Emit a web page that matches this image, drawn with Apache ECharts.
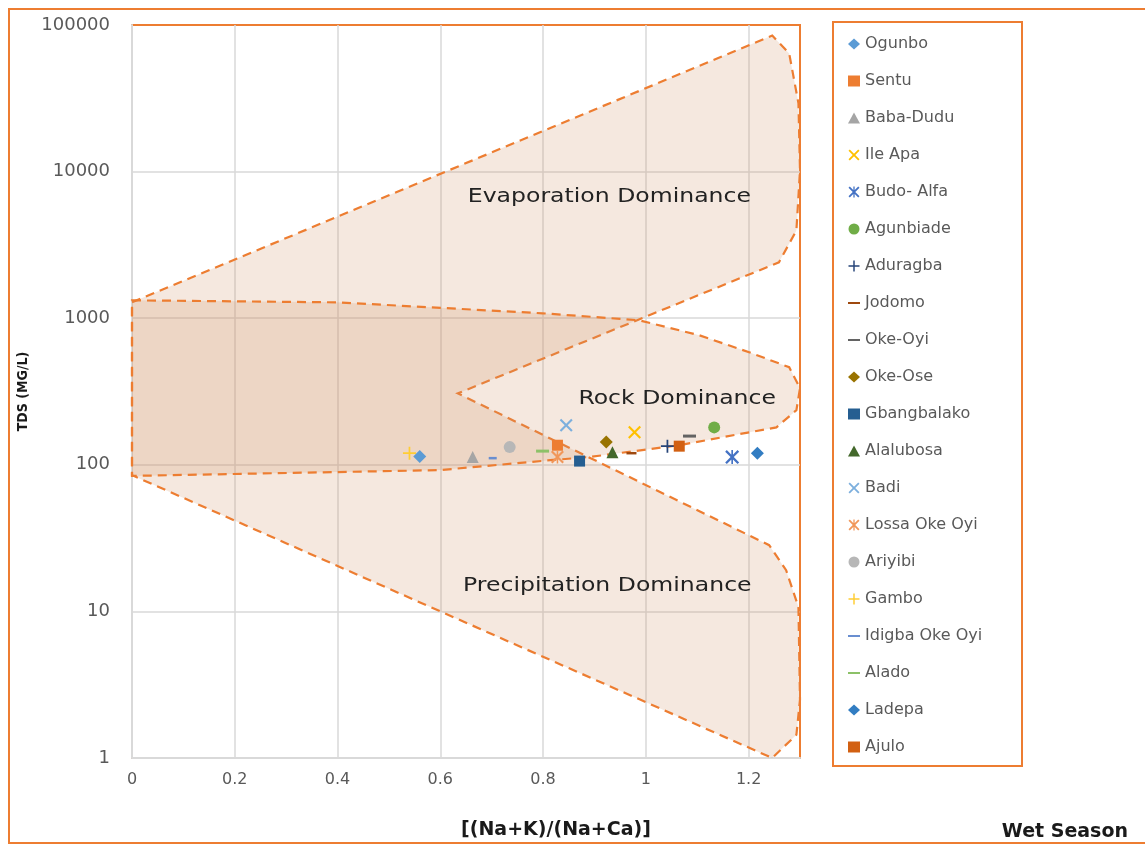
<!DOCTYPE html>
<html>
<head>
<meta charset="utf-8">
<script src="https://cdn.jsdelivr.net/npm/echarts@6/dist/echarts.min.js"></script>
<style>
  html, body { margin: 0; padding: 0; background: #fff; }
  #chart { width: 1145px; height: 846px; }
</style>
</head>
<body>
<div id="chart"></div>
<script>
// sample sites, wet season
var sampleNames = ['Ogunbo', 'Sentu', 'Baba-Dudu', 'Ile Apa', 'Budo- Alfa', 'Agunbiade', 'Aduragba',
  'Jodomo', 'Oke-Oyi', 'Oke-Ose', 'Gbangbalako', 'Alalubosa', 'Badi', 'Lossa Oke Oyi', 'Ariyibi',
  'Gambo', 'Idigba Oke Oyi', 'Alado', 'Ladepa', 'Ajulo'];
// (Na+K)/(Na+Ca)
var ratioValues = [0.560, 0.828, 0.663, 0.978, 1.168, 1.133, 1.042, 0.972, 1.085, 0.923,
  0.871, 0.935, 0.845, 0.828, 0.735, 0.540, 0.702, 0.799, 1.217, 1.065];
// TDS (mg/l)
var tdsValues = [114, 136, 113, 167, 113, 180, 134, 120, 157, 143,
  106, 122, 186, 113, 132, 120, 111, 124, 120, 134];

// Gibbs envelopes [ratio, TDS]
var outerEnvelope = [[0, 1283], [1.246, 84800], [1.279, 63900], [1.297, 29200], [1.3, 10200],
  [1.293, 3970], [1.259, 2405], [0.634, 307], [1.240, 28.3], [1.273, 19.1], [1.297, 10.7],
  [1.3, 2.5], [1.293, 1.44], [1.246, 1], [0, 85]];
var rockEnvelope = [[0, 1324], [0.398, 1283], [0.799, 1080], [0.987, 968], [1.104, 765],
  [1.201, 586], [1.279, 463], [1.3, 333], [1.293, 236], [1.254, 180], [1.182, 162],
  [1.065, 136], [0.890, 113], [0.807, 107], [0.599, 92], [0, 84]];

var regionNames = ['Evaporation Dominance', 'Rock Dominance', 'Precipitation Dominance'];
var regionRatio = [0.929, 1.061, 0.925];
var regionTds = [6670, 280, 14.9];

var xTicks = [0, 0.2, 0.4, 0.6, 0.8, 1, 1.2];

var X_PATH = 'path://M0,1.4L1.4,0L6,4.6L10.6,0L12,1.4L7.4,6L12,10.6L10.6,12L6,7.4L1.4,12L0,10.6L4.6,6Z';
var STAR_PATH = X_PATH + 'M5.3,0L6.7,0L6.7,12L5.3,12Z';
var PLUS_PATH = 'path://M5.2,0L6.8,0L6.8,5.2L12,5.2L12,6.8L6.8,6.8L6.8,12L5.2,12L5.2,6.8L0,6.8L0,5.2L5.2,5.2Z';
var DASH_PATH = 'path://M0,5L12,5L12,7L0,7Z';

var markerStyles = [
  { symbol: 'diamond', size: 13, color: '#5B9BD5' },
  { symbol: 'rect', size: 11, color: '#ED7D31' },
  { symbol: 'triangle', size: 12, color: '#A5A5A5' },
  { symbol: X_PATH, size: 13, color: '#FFC000' },
  { symbol: STAR_PATH, size: 14, color: '#4472C4' },
  { symbol: 'circle', size: 12, color: '#70AD47' },
  { symbol: PLUS_PATH, size: 13, color: '#264478' },
  { symbol: 'rect', size: [10, 2.5], color: '#9E480E', icon: DASH_PATH },
  { symbol: 'rect', size: [13, 3], color: '#636363', icon: DASH_PATH },
  { symbol: 'diamond', size: 13, color: '#997300' },
  { symbol: 'rect', size: 11, color: '#255E91' },
  { symbol: 'triangle', size: 12, color: '#43682B' },
  { symbol: X_PATH, size: 13, color: '#7CAFDD' },
  { symbol: STAR_PATH, size: 13, color: '#F1975A' },
  { symbol: 'circle', size: 12, color: '#B7B7B7' },
  { symbol: PLUS_PATH, size: 13, color: '#FFCD33' },
  { symbol: 'rect', size: [8, 2.5], color: '#698ED0', icon: DASH_PATH },
  { symbol: 'rect', size: [13, 3], color: '#8CC168', icon: DASH_PATH },
  { symbol: 'diamond', size: 13, color: '#327DC2' },
  { symbol: 'rect', size: 11, color: '#D26012' }
];

function envelopeSeries(pts) {
  return {
    type: 'custom',
    silent: true,
    z: 1,
    data: [[0, 1]],
    renderItem: function (params, api) {
      return {
        type: 'polygon',
        shape: { points: pts.map(function (p) { return api.coord(p); }) },
        style: {
          fill: 'rgba(208,148,106,0.21)',
          stroke: '#ED7D31',
          lineWidth: 2.2,
          lineDash: [9, 6]
        }
      };
    }
  };
}

var series = [envelopeSeries(outerEnvelope), envelopeSeries(rockEnvelope)];

series.push({
  type: 'custom',
  silent: true,
  z: 2,
  data: regionNames.map(function (n, i) { return [regionRatio[i], regionTds[i]]; }),
  renderItem: function (params, api) {
    var p = api.coord([api.value(0), api.value(1)]);
    return {
      type: 'text',
      x: p[0],
      y: p[1],
      scaleX: 1.24,
      style: {
        text: regionNames[params.dataIndex],
        font: '19px "DejaVu Sans"',
        fill: '#222',
        align: 'center',
        verticalAlign: 'middle'
      }
    };
  }
});

var legendData = [];
sampleNames.forEach(function (name, i) {
  var st = markerStyles[i];
  series.push({
    name: name,
    type: 'scatter',
    z: 3,
    symbol: st.symbol,
    symbolSize: st.size,
    itemStyle: { color: st.color, opacity: 1 },
    data: [[ratioValues[i], tdsValues[i]]]
  });
  legendData.push(st.icon ? { name: name, icon: st.icon } : { name: name });
});

var option = {
  animation: false,
  backgroundColor: '#fff',
  title: {
    text: 'Wet Season',
    right: 12,
    top: 818,
    textStyle: { fontFamily: 'DejaVu Sans', fontWeight: 'bold', fontSize: 19, color: '#1a1a1a' }
  },
  graphic: [
    { type: 'rect', shape: { x: 9, y: 9, width: 1200, height: 834 },
      style: { fill: 'none', stroke: '#ED7D31', lineWidth: 2 }, silent: true },
    { type: 'rect', shape: { x: 833, y: 22, width: 189, height: 744 },
      style: { fill: 'none', stroke: '#ED7D31', lineWidth: 2 }, silent: true },
    { type: 'text', x: 556, y: 830,
      style: { text: '[(Na+K)/(Na+Ca)]', font: 'bold 19px "DejaVu Sans"', fill: '#1a1a1a',
        align: 'center', verticalAlign: 'middle' }, silent: true }
  ],
  legend: {
    orient: 'vertical',
    left: 843,
    top: 31,
    itemWidth: 12,
    itemHeight: 11,
    itemGap: 21,
    data: legendData,
    textStyle: { fontFamily: 'DejaVu Sans', fontSize: 16, lineHeight: 16, color: '#595959' }
  },
  grid: {
    left: 132,
    right: 345,
    top: 25,
    bottom: 88,
    show: true,
    borderColor: '#ED7D31',
    borderWidth: 2
  },
  xAxis: {
    type: 'value',
    min: 0,
    max: 1.3,
    interval: 0.2,
    axisLine: { show: true, lineStyle: { color: '#d9d9d9', width: 2 } },
    axisTick: { show: false },
    axisLabel: {
      showMaxLabel: false,
      margin: 14,
      color: '#595959',
      fontFamily: 'DejaVu Sans',
      fontSize: 16,
      formatter: function (v) { return xTicks.indexOf(+v.toFixed(1)) >= 0 ? String(+v.toFixed(1)) : ''; }
    },
    splitLine: { show: true, showMaxLine: false, lineStyle: { color: '#d9d9d9', width: 1.5 } }
  },
  yAxis: {
    type: 'log',
    logBase: 10,
    min: 1,
    max: 100000,
    name: 'TDS (MG/L)',
    nameLocation: 'middle',
    nameGap: 100,
    nameTextStyle: { fontFamily: '"DejaVu Sans Condensed", "Liberation Sans", sans-serif', fontWeight: 'bold', fontSize: 14, color: '#1a1a1a' },
    axisLine: { show: true, lineStyle: { color: '#d9d9d9', width: 2 } },
    axisTick: { show: false },
    axisLabel: {
      margin: 22,
      color: '#595959',
      fontFamily: 'DejaVu Sans',
      fontSize: 18,
      formatter: function (v) { return String(Math.round(v)); }
    },
    splitLine: { show: true, showMaxLine: false, lineStyle: { color: '#d9d9d9', width: 1.5 } }
  },
  series: series
};

var chart = echarts.init(document.getElementById('chart'));
chart.setOption(option);

window.addEventListener('resize', function () {
  chart.resize();
});
</script>
</body>
</html>
